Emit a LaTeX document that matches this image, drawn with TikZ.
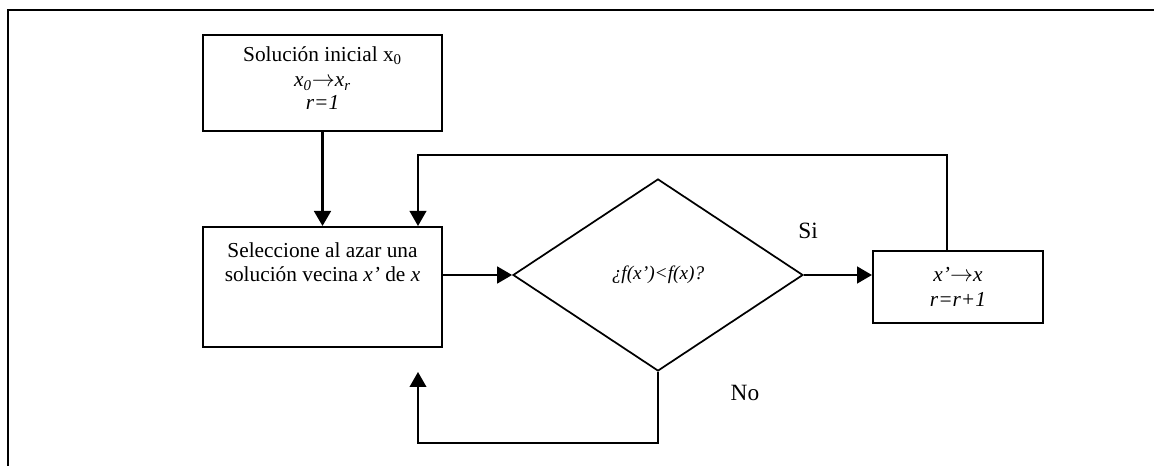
\documentclass[tikz,border=0pt]{standalone}
\usepackage{fontspec}
\setmainfont{Liberation Serif}
\usetikzlibrary{shapes.geometric,arrows.meta}
\newcommand{\myarrow}{\ensuremath{\rightarrow}}
\begin{document}
\begin{tikzpicture}[x=0.75pt,y=-0.75pt,
  box/.style={draw,line width=1.5pt,inner sep=0pt,align=center,font=\fontsize{16}{18}\selectfont},
  dec/.style={draw,diamond,line width=1.3pt,inner sep=0pt,minimum width=217.5pt,minimum height=144pt,font=\fontsize{14.5}{16}\selectfont\itshape},
  arr/.style={line width=2pt,-{Triangle[length=11.25pt,width=12.5pt]}},
  loopline/.style={line width=1.3pt,-{Triangle[length=11.25pt,width=12.5pt]}},
  lbl/.style={font=\fontsize{17.5}{19}\selectfont},
  txt/.style={align=center,font=\fontsize{16}{18}\selectfont}
]
\useasboundingbox (0,0) rectangle (1154,466);
\fill[white] (0,0) rectangle (1154,466);
% frame
\draw[line width=1.5pt] (8,466) -- (8,10) -- (1154,10);
% nodes
\node[box,minimum width=179.25pt,minimum height=72pt] (box1) at (322.5,83) {};
\node[txt,anchor=north] (t1) at (322.5,42)
  {Solución inicial x\textsubscript{0}\\[1pt] \textit{x\textsubscript{0}}\myarrow\textit{x\textsubscript{r}}\\[-1pt] \textit{r=1}};
\node[box,minimum width=179.25pt,minimum height=90pt] (box2) at (322.5,287) {};
\node[txt,anchor=north] (t2) at (322.5,238) {Seleccione al azar una\\ solución vecina \textit{x’} de \textit{x}};
\node[dec] (dia) at (658,275) {¿f(x’)<f(x)?};
\node[box,minimum width=127.5pt,minimum height=54pt] (box3) at (958,287)
  {\textit{x’}\myarrow\textit{x}\\[1pt] \textit{r=r+1}};
\node[lbl] (si) at (808,231) {Si};
\node[lbl] (no) at (745,393) {No};
% helper coordinates
\coordinate (b3out) at (947,251);
\coordinate (loopA) at (418,155);
\coordinate (noDown) at (658,443);
\coordinate (noEnd) at (418,372);
% connectors
\draw[arr] (box1.south) -- (box2.north);
\draw[arr] (box2.east |- dia.west) -- (dia.west);
\draw[arr] (dia.east) -- (dia.east -| box3.west);
\draw[loopline] (b3out) |- (loopA) -- (loopA |- box2.north);
\draw[loopline] (dia.south) -- (noDown) -| (noEnd);
\end{tikzpicture}
\end{document}
